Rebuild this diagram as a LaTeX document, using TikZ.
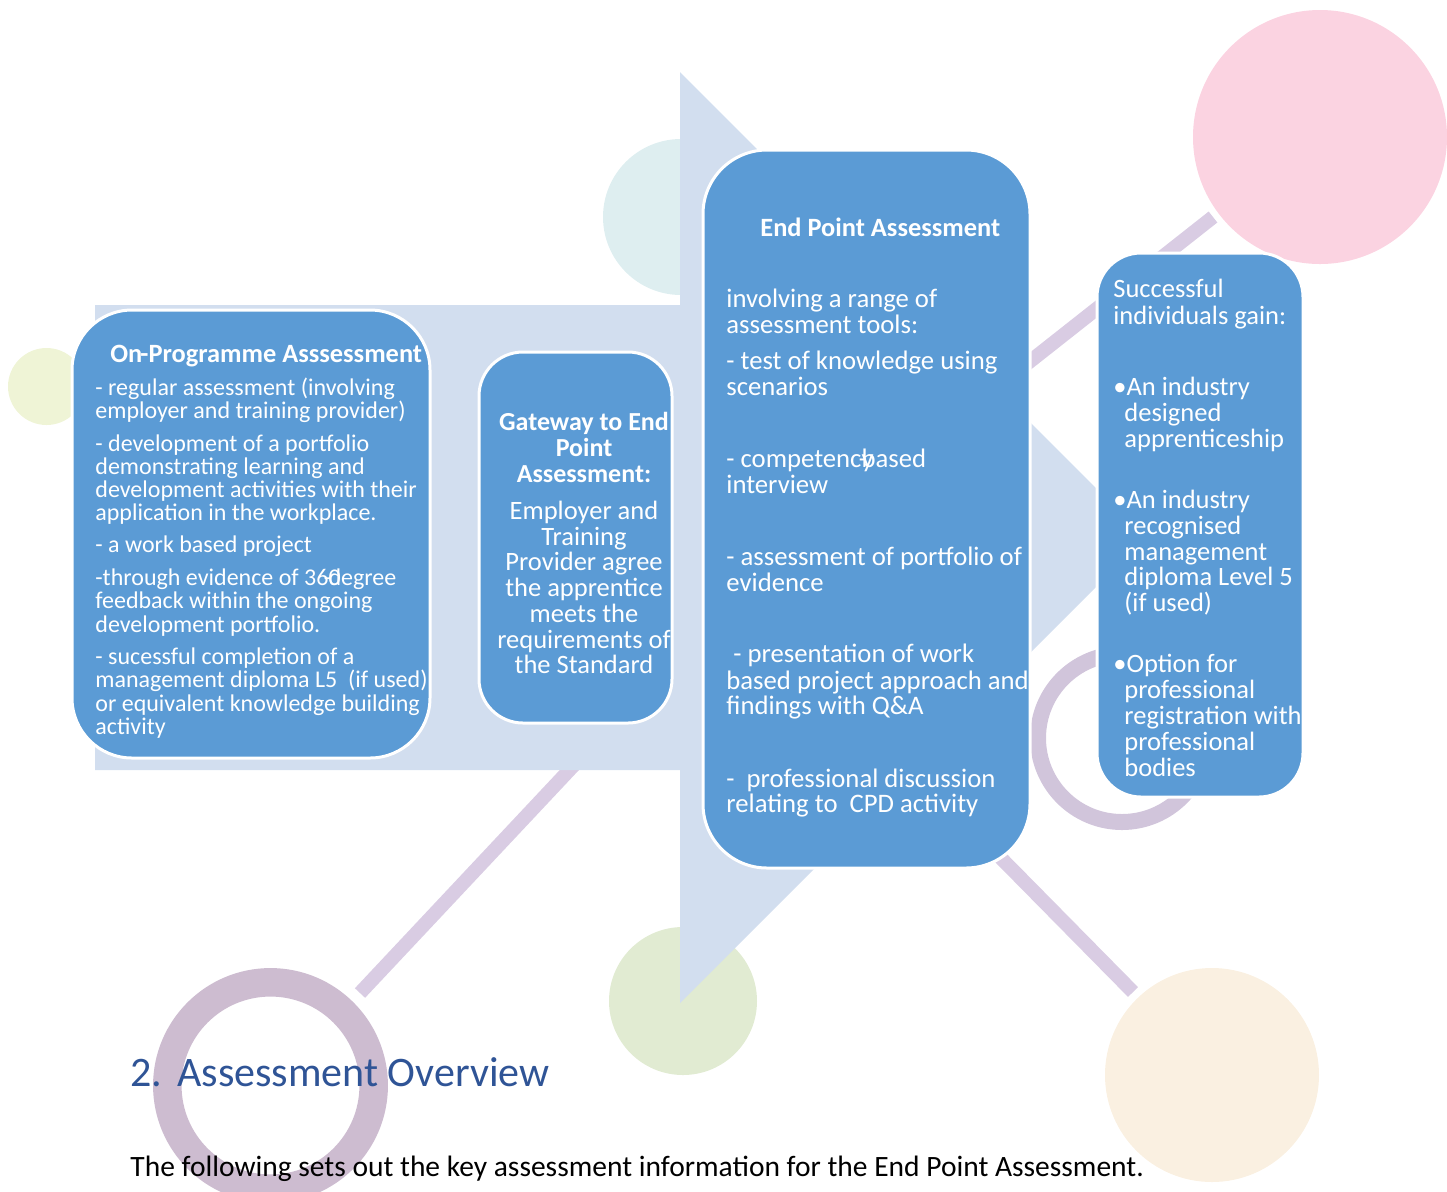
\documentclass[tikz,border=0pt]{standalone}
\usepackage{fontspec}
\setmainfont{Carlito}
\definecolor{boxblue}{HTML}{5B9BD5}
\definecolor{arrowblue}{HTML}{D2DEEF}
\definecolor{pinkc}{HTML}{FBD3E1}
\definecolor{cyanc}{HTML}{DEEEF0}
\definecolor{yellowc}{HTML}{EFF4D6}
\definecolor{greenc}{HTML}{E1EBD2}
\definecolor{creamc}{HTML}{FAF0E1}
\definecolor{ringc}{HTML}{CDBCD0}
\definecolor{ringd}{HTML}{D1C5DB}
\definecolor{linec}{HTML}{D9CCE3}
\definecolor{headblue}{HTML}{2F5496}
\begin{document}
\begin{tikzpicture}[x=0.5pt,y=-0.5pt,
  bluebox/.style={draw=white, line width=1.5pt, fill=boxblue, inner sep=0pt},
  wtext/.style={text=white, inner sep=0pt, anchor=base west},
  ctext/.style={text=white, inner sep=0pt, anchor=base},
  deco/.style={line width=7pt, draw=linec}]
\clip (0,0) rectangle (1447,1191);
\useasboundingbox (0,0) rectangle (1447,1191);
% decorative background
\fill[pinkc] (1320,137) circle[radius=63.5pt];
\fill[cyanc] (681,217) circle[radius=39pt];
\fill[yellowc] (46.5,386.5) circle[radius=19.25pt];
\fill[greenc] (683,1001) circle[radius=37pt];
\fill[creamc] (1212,1075) circle[radius=53.5pt];
\draw[ringc, line width=14.25pt] (270.5,1085.5) circle[radius=51.6pt];
\draw[ringd, line width=8pt] (1122,738) circle[radius=42pt];
\draw[deco] (360,993) -- (575,764);
\draw[deco] (1000,385) -- (1213,217);
\draw[deco] (995,852) -- (1133,992);
% big arrow
\fill[arrowblue] (95,305) -- (680,305) -- (680,72) -- (1145.5,537.5) -- (680,1003) -- (680,770) -- (95,770) -- cycle;
% boxes
\node[bluebox, rounded corners=30pt, minimum width=179pt, minimum height=224pt] (onprog) at (251,534) {};
\node[bluebox, rounded corners=22pt, minimum width=96.5pt, minimum height=185.5pt] (gate) at (575.5,537.5) {};
\node[bluebox, rounded corners=32pt, minimum width=163.5pt, minimum height=359pt] (epa) at (866.5,509) {};
\node[bluebox, rounded corners=22pt, minimum width=103pt, minimum height=272pt] (succ) at (1200,525) {};
% On-Programme text
\node[wtext, font=\bfseries\fontsize{13.2}{15}\selectfont] (optitle) at (110,362) {On\kern-1pt-Programme Asssessment};
\foreach \yy/\ltext [count=\i] in {
  395.7/{- regular assessment (involving},
  418.5/{employer and training provider)},
  451/{- development of a portfolio},
  474/{demonstrating learning and},
  497/{development activities with their},
  520.5/{application in the workplace.},
  552/{- a work based project},
  585.5/{-through evidence of 36\rlap{\kern-0.2em-}\rlap{0}degree},
  608.5/{feedback within the ongoing},
  632/{development portfolio.},
  664/{- sucessful completion of a},
  687.5/{management diploma L5\ \ (if used)},
  711/{or equivalent knowledge building},
  734/{activity}}
  \node[wtext, font=\fontsize{12}{14}\selectfont] (op\i) at (95,\yy) {\ltext};
% Gateway text
\foreach \yy/\ltext [count=\i] in {
  430.7/{Gateway to End},
  456.7/{Point},
  482.7/{Assessment:}}
  \node[ctext, font=\bfseries\fontsize{13}{15}\selectfont] (gt\i) at (584,\yy) {\ltext};
\foreach \yy/\ltext [count=\i] in {
  519.5/{Employer and},
  545/{Training},
  570.5/{Provider agree},
  596.5/{the apprentice},
  622.5/{meets the},
  648/{requirements of},
  673.5/{the Standard}}
  \node[ctext, font=\fontsize{13.25}{15}\selectfont] (gb\i) at (584,\yy) {\ltext};
% EPA text
\node[wtext, font=\bfseries\fontsize{13.2}{15}\selectfont] (epatitle) at (760,236) {End Point Assessment};
\foreach \yy/\ltext [count=\i] in {
  307/{involving a range of},
  333/{assessment tools:},
  369/{- test of knowledge using},
  395/{scenarios},
  467/{- competenc\rlap{\kern-0.1em-}\rlap{y}based},
  493/{interview},
  565/{- assessment of portfolio of},
  591/{evidence},
  689/{based project approach and},
  714/{findings with Q\&A},
  787/{-\ \ professional discussion},
  812/{relating to\ \ CPD activity}}
  \node[wtext, font=\fontsize{13.35}{15}\selectfont] (ep\i) at (726,\yy) {\ltext};
\node[wtext, font=\fontsize{13.35}{15}\selectfont] (eppres) at (733,662) {- presentation of work};
% Successful text
\foreach \yy/\ltext [count=\i] in {
  297/{Successful},
  324/{individuals gain:},
  395/{\textbullet An industry},
  508/{\textbullet An industry},
  672/{\textbullet Option for}}
  \node[wtext, font=\fontsize{13.25}{15}\selectfont] (sa\i) at (1113,\yy) {\ltext};
\foreach \yy/\ltext [count=\i] in {
  421/{designed},
  447/{apprenticeship},
  534/{recognised},
  560/{management},
  585/{diploma Level 5},
  611/{(if used)},
  698/{professional},
  724/{registration with},
  750/{professional},
  776/{bodies}}
  \node[wtext, font=\fontsize{13.25}{15}\selectfont] (sb\i) at (1124,\yy) {\ltext};
% heading and footer
\node[anchor=base west, inner sep=0pt, text=headblue, font=\fontsize{21}{24}\selectfont] (hnum) at (130,1086) {2.};
\node[anchor=base west, inner sep=0pt, text=headblue, font=\fontsize{21}{24}\selectfont] (htitle) at (177,1086) {Assessment Overview};
\node[anchor=base west, inner sep=0pt, text=black, font=\fontsize{14.75}{17}\selectfont] (foot) at (130,1176) {The following sets out the key assessment information for the End Point Assessment.};
\end{tikzpicture}
\end{document}
